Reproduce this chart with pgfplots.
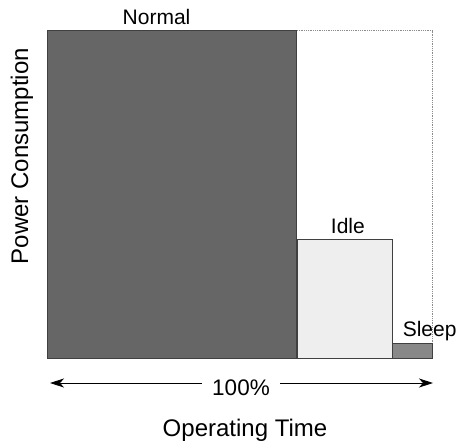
\documentclass[border=0pt]{standalone}
\usepackage{pgfplots}
\pgfplotsset{compat=1.18}
\usepackage{fontspec}
\setmainfont{Liberation Sans}
\usetikzlibrary{arrows.meta}

\definecolor{normalfill}{HTML}{666666}
\definecolor{idlefill}{HTML}{EEEEEE}
\definecolor{sleepfill}{HTML}{888888}

\begin{document}
\begin{tikzpicture}[x=1pt,y=1pt,font=\fontsize{21}{25}\selectfont]
	\useasboundingbox (0,0) rectangle (457,442);
	\begin{axis}[
		hide axis,
		scale only axis,
		width=385.7pt, height=327.6pt,
		at={(47pt,83.7pt)}, anchor=south west,
		xmin=0, xmax=100, ymin=0, ymax=100,
		clip=false,
		]
		% outline of the whole operating time (dotted)
		\addplot[draw=black!45, densely dotted, line width=0.8pt] coordinates {
			(64.8,100) (100,100) (100,0)
		};
		% Normal
		\addplot[fill=normalfill, draw=black!75, line width=0.9pt] coordinates {
			(0,0) (64.8,0) (64.8,100) (0,100)
		} -- cycle;
		% Idle
		\addplot[fill=idlefill, draw=black!75, line width=0.7pt] coordinates {
			(64.8,0) (89.6,0) (89.6,36.3) (64.8,36.3)
		} -- cycle;
		% Sleep
		\addplot[fill=sleepfill, draw=black!75, line width=0.7pt] coordinates {
			(89.6,0) (100,0) (100,4.6) (89.6,4.6)
		} -- cycle;
		% category labels
		\node[anchor=base] at (axis cs:28.4,101.8) {Normal};
		\node[anchor=base] at (axis cs:78.0,38.2) {Idle};
		\node[anchor=base] at (axis cs:99.2,6.6) {Sleep};
	\end{axis}
	% 100% arrow
	\draw[{Stealth[length=14pt,width=9pt,inset=4pt]}-{Stealth[length=14pt,width=9pt,inset=4pt]}, line width=0.8pt] (50,59) -- (433,59);
	\node[fill=white, inner xsep=10pt, anchor=base, font=\fontsize{22.5}{26}\selectfont] at (241,46.3) {100\%};
	% axis titles
	\node[anchor=base, font=\fontsize{24}{28}\selectfont] at (245,6) {Operating Time};
	\node[rotate=90, font=\fontsize{24}{28}\selectfont] at (22,286) {Power Consumption};
\end{tikzpicture}
\end{document}
